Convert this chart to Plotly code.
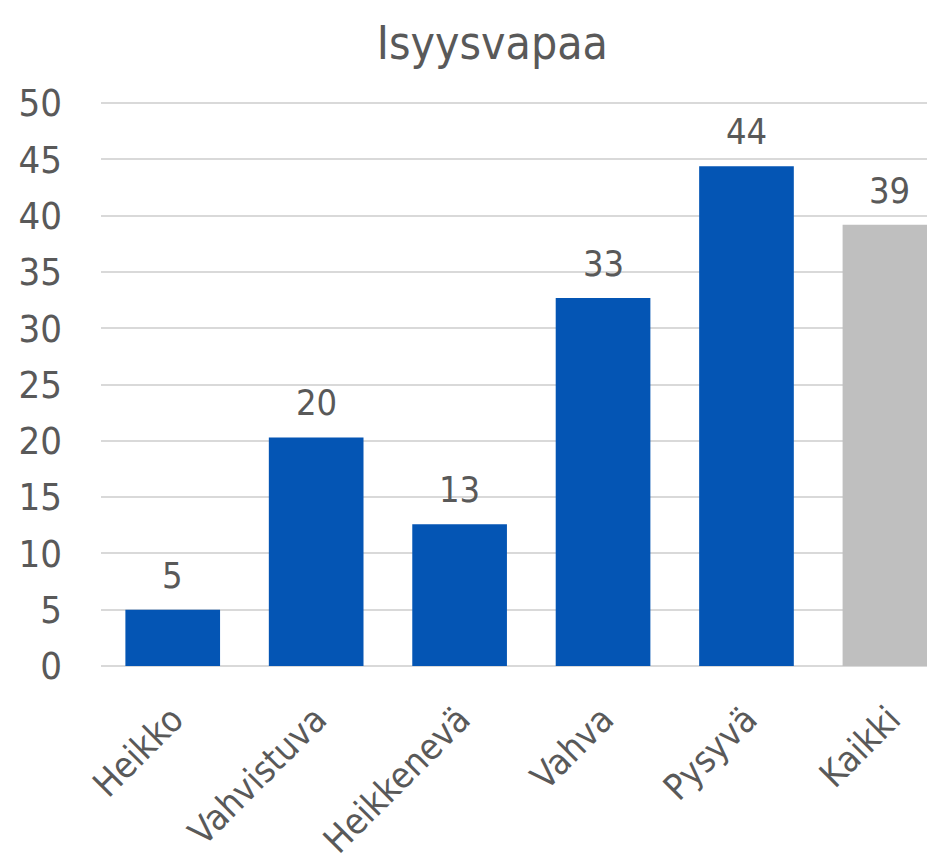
import plotly.graph_objects as go

categories = ["Heikko", "Vahvistuva", "Heikkenevä", "Vahva", "Pysyvä", "Kaikki"]
values = [5.0, 20.3, 12.6, 32.7, 44.4, 39.2]
labels = ["5", "20", "13", "33", "44", "39"]
colors = ["#0455B4", "#0455B4", "#0455B4", "#0455B4", "#0455B4", "#BFBFBF"]
y_ticks = [0, 5, 10, 15, 20, 25, 30, 35, 40, 45, 50]

FONT = "Liberation Sans Narrow, DejaVu Sans Condensed, Arial Narrow, sans-serif"
TEXT = "#595959"

fig = go.Figure()
fig.add_trace(go.Bar(
    x=categories,
    y=values,
    marker=dict(color=colors, line=dict(width=0)),
    width=0.66,
    hoverinfo="x+y",
))

# value labels above bars
for c, v, t in zip(categories, values, labels):
    fig.add_annotation(x=c, y=v, text=t, showarrow=False, yanchor="bottom",
                       yshift=12, font=dict(family=FONT, size=36, color=TEXT))

fig.update_layout(
    width=935, height=864,
    margin=dict(l=93, r=0, t=94, b=206),
    paper_bgcolor="white", plot_bgcolor="white",
    showlegend=False,
    title=dict(text="Isyysvapaa", x=0.518, xref="container", xanchor="center",
               y=0.96, yanchor="middle",
               font=dict(family=FONT, size=46, color=TEXT)),
    font=dict(family=FONT, color=TEXT),
    xaxis=dict(
        range=[-0.5, 5.37],
        tickangle=-45,
        tickfont=dict(family=FONT, size=36, color=TEXT),
        showgrid=False, showline=False, ticks="", ticklabelstandoff=24,
    ),
    yaxis=dict(
        range=[0, 50.1],
        tickvals=y_ticks,
        tickfont=dict(family=FONT, size=38, color=TEXT),
        gridcolor="#D9D9D9", gridwidth=1.5,
        zeroline=True, zerolinecolor="#D9D9D9", zerolinewidth=1.5,
        showline=False, ticks="", ticklabelstandoff=38,
    ),
)

fig.write_html("out.html")
